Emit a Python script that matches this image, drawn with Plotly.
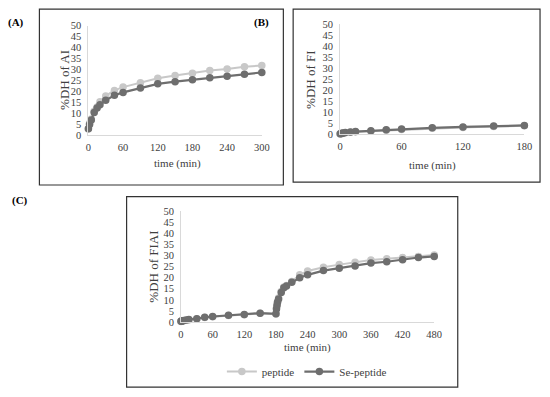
import plotly.graph_objects as go

# Page body has an 8px margin, so the figure is drawn 8px in from the window edge
OFF = 8
W, H = 550 - OFF, 397 - OFF

# Panel A data
a_time = [0, 2, 5, 10, 15, 20, 30, 45, 60, 90, 120, 150, 180, 210, 240, 270, 300]
a_pep = [3, 5.5, 7.5, 11, 13, 15.3, 18, 20.5, 22, 24, 26, 27.3, 28.3, 29.6, 30.2, 31.3, 31.8]
a_se = [3, 5, 7, 10.5, 12.5, 14, 16, 18.3, 19.6, 21.6, 23.5, 24.5, 25.4, 26.3, 27, 27.9, 28.7]

# Panel B data
b_time = [0, 1, 2, 3, 5, 10, 15, 30, 45, 60, 90, 120, 150, 180]
b_pep = [0.2, 0.3, 0.4, 0.6, 0.8, 1.0, 1.2, 1.5, 1.9, 2.3, 2.8, 3.2, 3.6, 3.9]
b_se = [0.3, 0.4, 0.5, 0.7, 0.9, 1.1, 1.3, 1.7, 2.1, 2.5, 3.0, 3.4, 3.8, 4.1]

# Panel C data
c_time = [0, 1, 2, 3, 5, 10, 15, 30, 45, 60, 90, 120, 150, 180,
          181, 182, 183, 185, 190, 195, 200, 210, 225, 240, 270, 300, 330, 360, 390, 420, 450, 480]
c_pep = [0.2, 0.3, 0.4, 0.5, 0.6, 0.8, 1.0, 1.5, 2.0, 2.4, 2.9, 3.3, 3.9, 3.6,
         6.2, 7.8, 9.2, 10.8, 13.8, 15.8, 16.5, 18.3, 21.3, 23, 24.7, 25.9, 27, 28, 28.5, 29.1, 29.6, 30.3]
c_se = [0.3, 0.4, 0.5, 0.6, 0.7, 0.9, 1.1, 1.5, 2.1, 2.5, 3.0, 3.4, 4.0, 3.7,
        5.9, 7.4, 8.9, 10.4, 13.3, 15.5, 16.3, 17.9, 20, 21.3, 23.2, 24.3, 25.3, 26.6, 27.2, 28.1, 29.1, 29.6]

x_ticks_a = [0, 60, 120, 180, 240, 300]
x_ticks_b = [0, 60, 120, 180]
x_ticks_c = [0, 60, 120, 180, 240, 300, 360, 420, 480]

PEP_COLOR = "#c8c8c8"
SE_COLOR = "#6e6e6e"
FONT = "Liberation Serif, Times New Roman, serif"


def px_x(p):
    return (p - OFF) / W


def px_y(p):
    return 1 - (p - OFF) / H


fig = go.Figure()

panels = [
    ("x", "y", a_time, a_pep, a_se, False),
    ("x2", "y2", b_time, b_pep, b_se, False),
    ("x3", "y3", c_time, c_pep, c_se, True),
]
for xa, ya, t, p, s, show in panels:
    fig.add_trace(go.Scatter(x=t, y=p, xaxis=xa, yaxis=ya, mode="lines+markers",
                             name="peptide", showlegend=show, cliponaxis=False,
                             line=dict(color=PEP_COLOR, width=2),
                             marker=dict(color=PEP_COLOR, size=7.5)))
    fig.add_trace(go.Scatter(x=t, y=s, xaxis=xa, yaxis=ya, mode="lines+markers",
                             name="Se-peptide", showlegend=show, cliponaxis=False,
                             line=dict(color=SE_COLOR, width=2.2),
                             marker=dict(color=SE_COLOR, size=7.5)))

axis_common = dict(showgrid=False, zeroline=False, showline=True, linecolor="#d9d9d9",
                   linewidth=1, ticks="", tickfont=dict(family=FONT, size=10.5, color="#404040"),
                   fixedrange=True)

domains = {
    "a": ([87, 264], [21, 134]),
    "b": ([344, 532], [19.5, 133]),
    "c": ([181.5, 440], [212, 326]),
}


def dom(key):
    (x0, x1), (y0, y1) = domains[key]
    return [px_x(x0), px_x(x1)], [px_y(y1), px_y(y0)]


for idx, key, xr, xt in [("", "a", 300, x_ticks_a), ("2", "b", 180, x_ticks_b), ("3", "c", 480, x_ticks_c)]:
    xd, yd = dom(key)
    fig.update_layout(**{
        "xaxis" + idx: dict(axis_common, domain=xd, range=[0, xr], tickvals=xt,
                            anchor="y" + idx, ticklabelstandoff=2),
        "yaxis" + idx: dict(axis_common, domain=yd, range=[0, 50], dtick=5,
                            anchor="x" + idx, ticklabelstandoff=4),
    })

shapes = []
for (x0, y0, x1, y1) in [(37, 4, 286, 185), (296, 4, 548, 182), (126, 197, 464, 393)]:
    shapes.append(dict(type="rect", xref="paper", yref="paper",
                       x0=px_x(x0), x1=px_x(x1), y0=px_y(y1), y1=px_y(y0),
                       line=dict(color="#333333", width=1.2)))

ann = []
xfont = dict(family=FONT, size=11, color="#404040")
yfont = dict(family=FONT, size=13, color="#404040")
for text, x, y in [("time (min)", 178, 163), ("time (min)", 438, 165), ("time (min)", 311, 352)]:
    ann.append(dict(text=text, x=px_x(x), y=px_y(y), xref="paper", yref="paper",
                    showarrow=False, font=xfont, xanchor="center", yanchor="middle"))
for text, x, y in [("%DH of AI", 62, 77), ("%DH of FI", 313, 76), ("%DH of FIAI", 154, 269)]:
    ann.append(dict(text=text, x=px_x(x), y=px_y(y), xref="paper", yref="paper",
                    showarrow=False, font=yfont, textangle=-90,
                    xanchor="center", yanchor="middle"))
for text, x, y in [("(A)", 13, 18), ("(B)", 264, 18), ("(C)", 17, 201)]:
    ann.append(dict(text="<b>" + text + "</b>", x=px_x(x), y=px_y(y), xref="paper", yref="paper",
                    showarrow=False, font=dict(family=FONT, size=11, color="#000000"),
                    xanchor="center", yanchor="middle"))

fig.update_layout(
    width=W, height=H, margin=dict(l=0, r=0, t=0, b=0),
    paper_bgcolor="white", plot_bgcolor="white",
    shapes=shapes, annotations=ann,
    showlegend=True,
    legend=dict(orientation="h", x=px_x(310), y=px_y(377), xanchor="center", yanchor="middle",
                font=dict(family=FONT, size=11, color="#404040"), bgcolor="rgba(0,0,0,0)",
                itemwidth=30, tracegroupgap=0),
)

fig.write_html("out.html")
